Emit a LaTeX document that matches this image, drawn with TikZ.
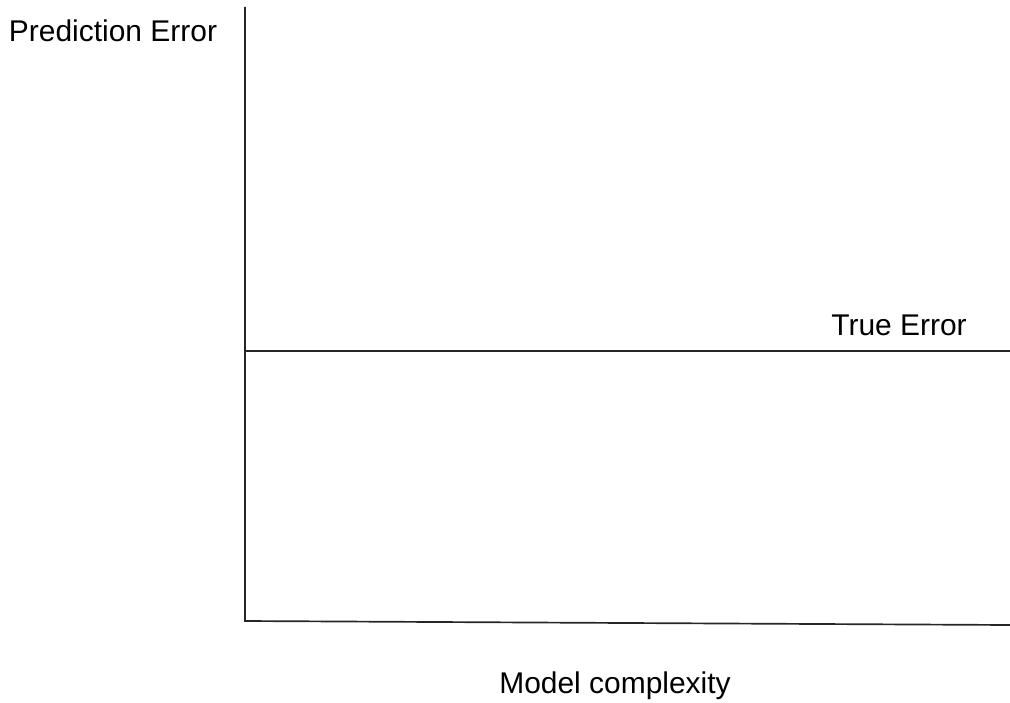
\documentclass[tikz,border=0pt]{standalone}
\usepackage{fontspec}
\setmainfont{Liberation Sans}
\usepackage{tikz}
\usetikzlibrary{positioning}
\tikzstyle{axis} = [line width=1.2pt, black!85]
\tikzstyle{lbl} = [font=\fontsize{21.3}{25}\selectfont, inner sep=0pt]

\begin{document}
\begin{tikzpicture}[x=0.025cm, y=-0.025cm]
\useasboundingbox (0,0) rectangle (1010,702);
\coordinate (origin) at (245,621);
\coordinate (ytop) at (245,7);
\coordinate (xend) at (1010,625);
\coordinate (tleft) at (245,351);
\coordinate (tright) at (1010,351);
\draw[axis] (ytop)--(origin)--(xend);
\draw[axis] (tleft)--(tright);
\node[lbl] (ylabel) at (113,31) {Prediction Error};
\node[lbl] (xlabel) at (615,686) {Model complexity};
\node[lbl] (truelabel) at (899,325) {True Error};
\end{tikzpicture}
\end{document}
